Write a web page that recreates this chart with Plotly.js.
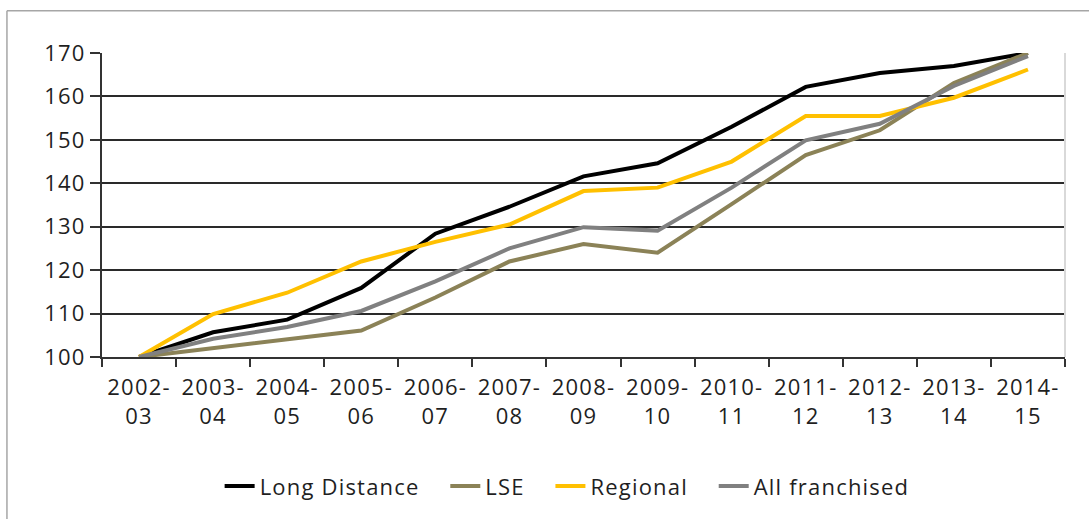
<!DOCTYPE html>
<html>
<head>
<meta charset="utf-8">
<script src="https://cdn.plot.ly/plotly-3.0.1.min.js"></script>
<style>html,body{margin:0;padding:0;background:#fff;}#chart{width:1089px;height:519px;}
text{letter-spacing:1.2px;}</style>
</head>
<body>
<div id="chart"></div>
<script>
const categories = ["2002-<br>03","2003-<br>04","2004-<br>05","2005-<br>06","2006-<br>07","2007-<br>08","2008-<br>09","2009-<br>10","2010-<br>11","2011-<br>12","2012-<br>13","2013-<br>14","2014-<br>15"];
const seriesNames = ["Long Distance", "LSE", "Regional", "All franchised"];
const longDistance = [100, 105.7, 108.6, 115.9, 128.4, 134.6, 141.6, 144.6, 153.0, 162.2, 165.4, 167.0, 170.0];
const lse = [100, 102.0, 103.9, 106.1, 113.7, 122.0, 126.0, 124.0, 135.2, 146.5, 152.2, 163.1, 170.0];
const regional = [100, 109.9, 114.8, 122.0, 126.5, 130.5, 138.2, 139.0, 145.0, 155.5, 155.5, 159.7, 166.2];
const allFranchised = [100, 104.2, 106.9, 110.6, 117.4, 125.0, 129.9, 129.1, 139.0, 149.9, 153.7, 162.4, 169.3];
const yTicks = [100, 110, 120, 130, 140, 150, 160, 170];

const font = {family: "Open Sans, sans-serif", size: 22, color: "#1f1f1f"};
function tr(name, y, color, last) {
  return {type: "scatter", mode: "lines", name: last ? name : name + "\u00a0\u00a0\u00a0", x: categories, y: y,
          line: {color: color, width: 4}};
}
const data = [
  tr(seriesNames[0], longDistance, "#000000"),
  tr(seriesNames[1], lse, "#8b8257"),
  tr(seriesNames[2], regional, "#ffc000"),
  tr(seriesNames[3], allFranchised, "#808080", true)
];
const layout = {
  width: 1089, height: 519,
  margin: {l: 102, r: 24, t: 53, b: 157},
  paper_bgcolor: "#fff", plot_bgcolor: "#fff",
  font: font,
  showlegend: true,
  legend: {orientation: "h", x: 0.483, xanchor: "center", y: -0.425, yanchor: "middle",
           font: font, traceorder: "normal", itemwidth: 30},
  xaxis: {type: "category", range: [-0.5, 12.5], tickson: "boundaries", ticks: "outside", ticklen: 8, tickwidth: 2,
          tickcolor: "#333", showline: true, linecolor: "#333", linewidth: 2, ticklabelstandoff: 10,
          showgrid: false, tickfont: font, fixedrange: true},
  yaxis: {range: [100, 170], tickvals: yTicks, ticks: "outside", ticklen: 10, tickwidth: 2,
          tickcolor: "#333", showline: true, linecolor: "#333", linewidth: 2,
          showgrid: true, gridcolor: "#2a2a2a", gridwidth: 2, zeroline: false,
          tickfont: font, fixedrange: true},
  shapes: [
    {type: "line", xref: "paper", yref: "paper", x0: 1, x1: 1, y0: 0, y1: 1,
     line: {color: "#d9d9d9", width: 2}},
    {type: "line", xref: "paper", yref: "paper", x0: -0.0987, x1: -0.0987, y0: -0.7, y1: 1.139,
     line: {color: "#a6a6a6", width: 1.5}},
    {type: "line", xref: "paper", yref: "paper", x0: -0.0987, x1: 1.1, y0: 1.139, y1: 1.139,
     line: {color: "#a6a6a6", width: 1.5}}
  ]
};
Plotly.newPlot("chart", data, layout, {displayModeBar: false, staticPlot: true});
</script>
</body>
</html>
